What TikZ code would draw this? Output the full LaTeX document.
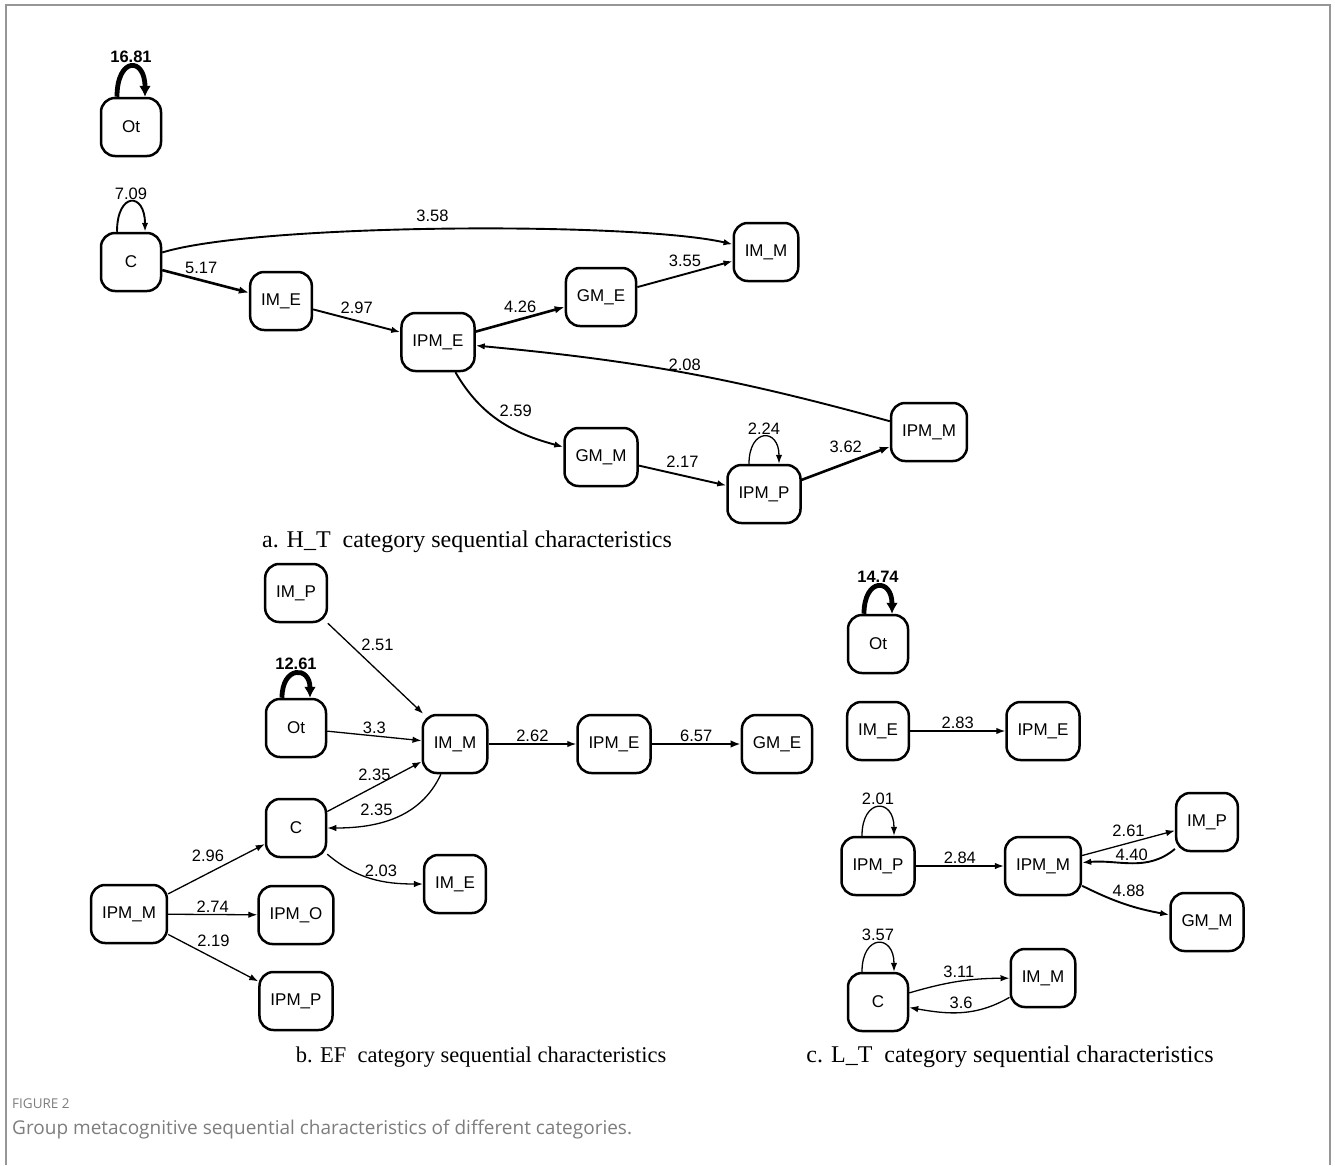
\documentclass[tikz,border=0pt]{standalone}
\usepackage{fontspec}
\setmainfont{Liberation Sans}
\newfontfamily\capfont{Liberation Serif}
\newfontfamily\figfont{Open Sans}
\usetikzlibrary{arrows.meta}

\definecolor{framegray}{RGB}{150,150,150}
\definecolor{figgray}{RGB}{125,125,125}

\tikzset{
  state/.style={draw, line width=2.5pt, rounded corners=14pt, minimum width=60pt,
    minimum height=58pt, inner xsep=11pt, font=\fontsize{17}{20}\selectfont},
  lbl/.style={font=\fontsize{16.5}{19}\selectfont, inner sep=1.5pt},
  boldlbl/.style={lbl, font=\fontsize{16.5}{19}\selectfont\bfseries},
  arc1/.style={-{Latex[length=9pt,width=6.5pt]}, line width=1.3pt},
  arc2/.style={-{Latex[length=9pt,width=6.5pt]}, line width=1.9pt},
  arc3/.style={-{Latex[length=10pt,width=7.5pt]}, line width=2.6pt},
  arc4/.style={-{Latex[length=11pt,width=12pt]}, line width=4.8pt},
  subcap/.style={font=\capfont\fontsize{24}{28}\selectfont},
}

\begin{document}
\begin{tikzpicture}[x=1pt, y=1pt]
\useasboundingbox (0,0) rectangle (1335,-1165);
% Cornice
\draw[framegray, line width=1.5pt] (6,-1165) -- (6,-5) -- (1330,-5) -- (1330,-1165);

% a. H_T
\node[state] (aOt) at (131,-127) {Ot};
\node[state] (aC) at (131,-262) {C};
\node[state] (aIME) at (281,-301) {IM\_E};
\node[state] (aIPME) at (438,-342) {IPM\_E};
\node[state] (aGME) at (601,-297) {GM\_E};
\node[state] (aIMM) at (766,-252) {IM\_M};
\node[state] (aGMM) at (601,-457) {GM\_M};
\node[state] (aIPMP) at (764,-494) {IPM\_P};
\node[state] (aIPMM) at (929,-432) {IPM\_M};

\draw[arc4] ([xshift=-14pt]aOt.north) to[out=90, in=90, distance=40pt] node[boldlbl, above] {16.81} ([xshift=14pt]aOt.north);
\draw[arc2] ([xshift=-14pt]aC.north) to[out=90, in=90, distance=40pt] node[lbl, above] {7.09} ([xshift=14pt]aC.north);
\draw[arc2] (aC) to[out=17, in=167, looseness=0.45] node[lbl, above=5pt, pos=0.48] {3.58} (aIMM);
\draw[arc3] (aC) -- node[lbl, above=4pt, pos=0.45] {5.17} (aIME);
\draw[arc2] (aIME) -- node[lbl, above=5pt] {2.97} (aIPME);
\draw[arc3] (aIPME) -- node[lbl, above=4pt] {4.26} (aGME);
\draw[arc2] (aGME) -- node[lbl, above=5pt] {3.55} (aIMM);
\draw[arc2] (aIPMM) to[bend right=5] node[lbl, above] {2.08} (aIPME);
\draw[arc2] (aIPME) to[out=-60, in=165] node[lbl, above right, pos=0.47] {2.59} (aGMM);
\draw[arc2] (aGMM) -- node[lbl, above=6pt] {2.17} (aIPMP);
\draw[arc1] ([xshift=-15pt]aIPMP.north) to[out=90, in=90, distance=36pt] node[lbl, above] {2.24} ([xshift=15pt]aIPMP.north);
\draw[arc3] (aIPMP) -- node[lbl, above=8pt] {3.62} (aIPMM);

\node[subcap] (capa) at (467,-542) {a. H\_T\ \ category sequential characteristics};

% b. EF
\node[state] (bIMP) at (296,-593) {IM\_P};
\node[state] (bOt) at (296,-728) {Ot};
\node[state] (bIMM) at (455,-744) {IM\_M};
\node[state] (bC) at (296,-828) {C};
\node[state] (bIME) at (455,-884) {IM\_E};
\node[state] (bIPMM) at (129,-914) {IPM\_M};
\node[state] (bIPMO) at (296,-915) {IPM\_O};
\node[state] (bIPMP) at (296,-1001) {IPM\_P};
\node[state] (bIPME) at (614,-744) {IPM\_E};
\node[state] (bGME) at (777,-744) {GM\_E};

\draw[arc1] (bIMP) -- node[lbl, anchor=south west, pos=0.33] {2.51} (bIMM);
\draw[arc4] ([xshift=-14pt]bOt.north) to[out=90, in=90, distance=32pt] node[boldlbl, above] {12.61} ([xshift=14pt]bOt.north);
\draw[arc1] (bOt) -- node[lbl, above] {3.3} (bIMM);
\draw[arc1] (bC) -- node[lbl, above=4pt] {2.35} (bIMM);
\draw[arc1] (bIMM) to[out=-115, in=0] node[lbl, above left, pos=0.5] {2.35} (bC);
\draw[arc1] (bIMM) -- node[lbl, above] {2.62} (bIPME);
\draw[arc3] (bIPME) -- node[lbl, above] {6.57} (bGME);
\draw[arc1] (bIPMM) -- node[lbl, anchor=south east, pos=0.6] {2.96} (bC);
\draw[arc1] (bIPMM) -- node[lbl, above] {2.74} (bIPMO);
\draw[arc1] (bIPMM) -- node[lbl, anchor=south west, pos=0.3] {2.19} (bIPMP);
\draw[arc1] (bC) to[out=-40, in=180] node[lbl, above=2pt, pos=0.6] {2.03} (bIME);

\node[subcap, font=\capfont\fontsize{22.5}{27}\selectfont] (capb) at (481,-1057) {b. EF\ \ category sequential characteristics};

% c. L_T
\node[state] (cOt) at (878,-644) {Ot};
\node[state] (cIME) at (878,-731) {IM\_E};
\node[state] (cIPME) at (1043,-731) {IPM\_E};
\node[state] (cIPMP) at (878,-866) {IPM\_P};
\node[state] (cIPMM) at (1043,-866) {IPM\_M};
\node[state] (cIMP) at (1207,-822) {IM\_P};
\node[state] (cGMM) at (1207,-922) {GM\_M};
\node[state] (cC) at (878,-1002) {C};
\node[state] (cIMM) at (1043,-978) {IM\_M};

\draw[arc4] ([xshift=-14pt]cOt.north) to[out=90, in=90, distance=36pt] node[boldlbl, above] {14.74} ([xshift=14pt]cOt.north);
\draw[arc1] (cIME) -- node[lbl, above] {2.83} (cIPME);
\draw[arc1] ([xshift=-16pt]cIPMP.north) to[out=90, in=90, distance=38pt] node[lbl, above] {2.01} ([xshift=16pt]cIPMP.north);
\draw[arc1] (cIPMP) -- node[lbl, above] {2.84} (cIPMM);
\draw[arc1] (cIPMM) -- node[lbl, above=4pt] {2.61} (cIMP);
\draw[arc2] (cIMP) to[out=220, in=5] node[lbl, above, pos=0.5] {4.40} (cIPMM);
\draw[arc2] (cIPMM) to[bend right=8] node[lbl, above=6pt, pos=0.55] {4.88} (cGMM);
\draw[arc1] ([xshift=-16pt]cC.north) to[out=90, in=90, distance=38pt] node[lbl, above] {3.57} ([xshift=16pt]cC.north);
\draw[arc1] (cC) to[bend left=8] node[lbl, above=2pt] {3.11} (cIMM);
\draw[arc1] (cIMM) to[out=210, in=-10] node[lbl, above=2pt] {3.6} (cC);

\node[subcap] (capc) at (1010,-1057) {c. L\_T\ \ category sequential characteristics};

% Didascalia
\node[figgray, anchor=base west, inner sep=0pt, font=\figfont\fontsize{13.5}{16}\selectfont] (fig) at (12,-1108) {FIGURE 2};
\node[figgray, anchor=base west, inner sep=0pt, font=\figfont\fontsize{19}{22}\selectfont] (figtxt) at (12,-1134) {Group metacognitive sequential characteristics of different categories.};
\end{tikzpicture}
\end{document}
